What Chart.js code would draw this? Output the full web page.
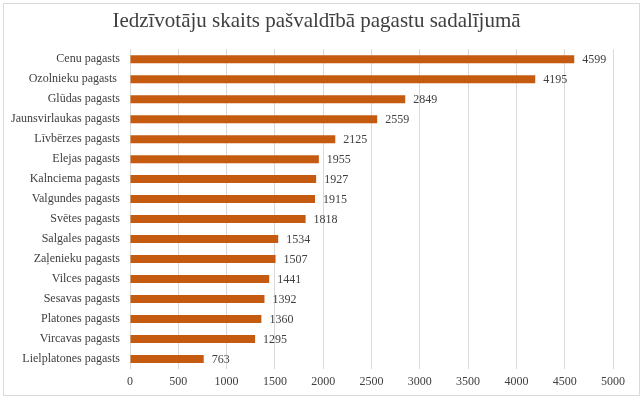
<!DOCTYPE html>
<html>
<head>
<meta charset="utf-8">
<script src="https://cdn.jsdelivr.net/npm/chart.js@4/dist/chart.umd.min.js"></script>
<style>
  html, body { margin: 0; padding: 0; background: #fff; }
  #wrap { position: absolute; left: 0; top: 0; width: 643px; height: 399px; }
  #frame { position: absolute; left: 3px; top: 3px; width: 635px; height: 391px; border: 1px solid #d9d9d9; pointer-events: none; }
</style>
</head>
<body>
<div id="wrap">
  <canvas id="myChart" width="643" height="399"></canvas>
  <div id="frame"></div>
</div>
<script>
const titleText = "Iedzīvotāju skaits pašvaldībā pagastu sadalījumā";
const parishes = [
  "Cenu pagasts", "Ozolnieku pagasts ", "Glūdas pagasts", "Jaunsvirlaukas pagasts",
  "Līvbērzes pagasts", "Elejas pagasts", "Kalnciema pagasts", "Valgundes pagasts",
  "Svētes pagasts", "Salgales pagasts", "Zaļenieku pagasts", "Vilces pagasts",
  "Sesavas pagasts", "Platones pagasts", "Vircavas pagasts", "Lielplatones pagasts"
];
const residents = [4599, 4195, 2849, 2559, 2125, 1955, 1927, 1915, 1818, 1534, 1507, 1441, 1392, 1360, 1295, 763];
const axisMax = 5000;
const axisStep = 500;

const serif = "'Liberation Serif', 'Times New Roman', serif";

// value labels at the end of each bar
const valueLabels = {
  id: "valueLabels",
  afterDatasetsDraw(chart) {
    const ctx = chart.ctx;
    const meta = chart.getDatasetMeta(0);
    ctx.save();
    ctx.font = "12px " + serif;
    ctx.fillStyle = "#404040";
    ctx.textAlign = "left";
    ctx.textBaseline = "middle";
    meta.data.forEach((bar, i) => {
      ctx.fillText(String(residents[i]), bar.x + 8, bar.y + 1);
    });
    ctx.restore();
  }
};

// nudge the title a bit to the right, like the original
const titleShift = {
  id: "titleShift",
  afterLayout(chart) {
    if (chart.titleBlock) {
      chart.titleBlock.left += 10;
      chart.titleBlock.right += 10;
    }
  }
};

new Chart(document.getElementById("myChart").getContext("2d"), {
  type: "bar",
  data: {
    labels: parishes,
    datasets: [{
      data: residents,
      backgroundColor: "#C55A11",
      barPercentage: 0.8,
      categoryPercentage: 0.5
    }]
  },
  options: {
    indexAxis: "y",
    responsive: false,
    animation: false,
    layout: { padding: { left: 0, right: 30, top: 9, bottom: 0 } },
    plugins: {
      legend: { display: false },
      tooltip: { enabled: false },
      title: {
        display: true,
        text: titleText,
        color: "#404040",
        font: { family: serif, size: 21, weight: "normal" },
        padding: { top: 0, bottom: 15 }
      }
    },
    scales: {
      x: {
        min: 0,
        max: axisMax,
        ticks: {
          stepSize: axisStep,
          color: "#404040",
          font: { family: serif, size: 12 },
          padding: 6,
          callback: (v) => String(v)
        },
        grid: { color: "#d9d9d9", drawTicks: false },
        border: { display: false },
        afterFit(scale) { scale.height = 30; }
      },
      y: {
        ticks: {
          color: "#404040",
          font: { family: serif, size: 12 },
          padding: 10,
          autoSkip: false
        },
        grid: { display: false, drawTicks: false },
        border: { display: false },
        afterFit(scale) { scale.width = 130; }
      }
    }
  },
  plugins: [valueLabels, titleShift]
});
</script>
</body>
</html>
